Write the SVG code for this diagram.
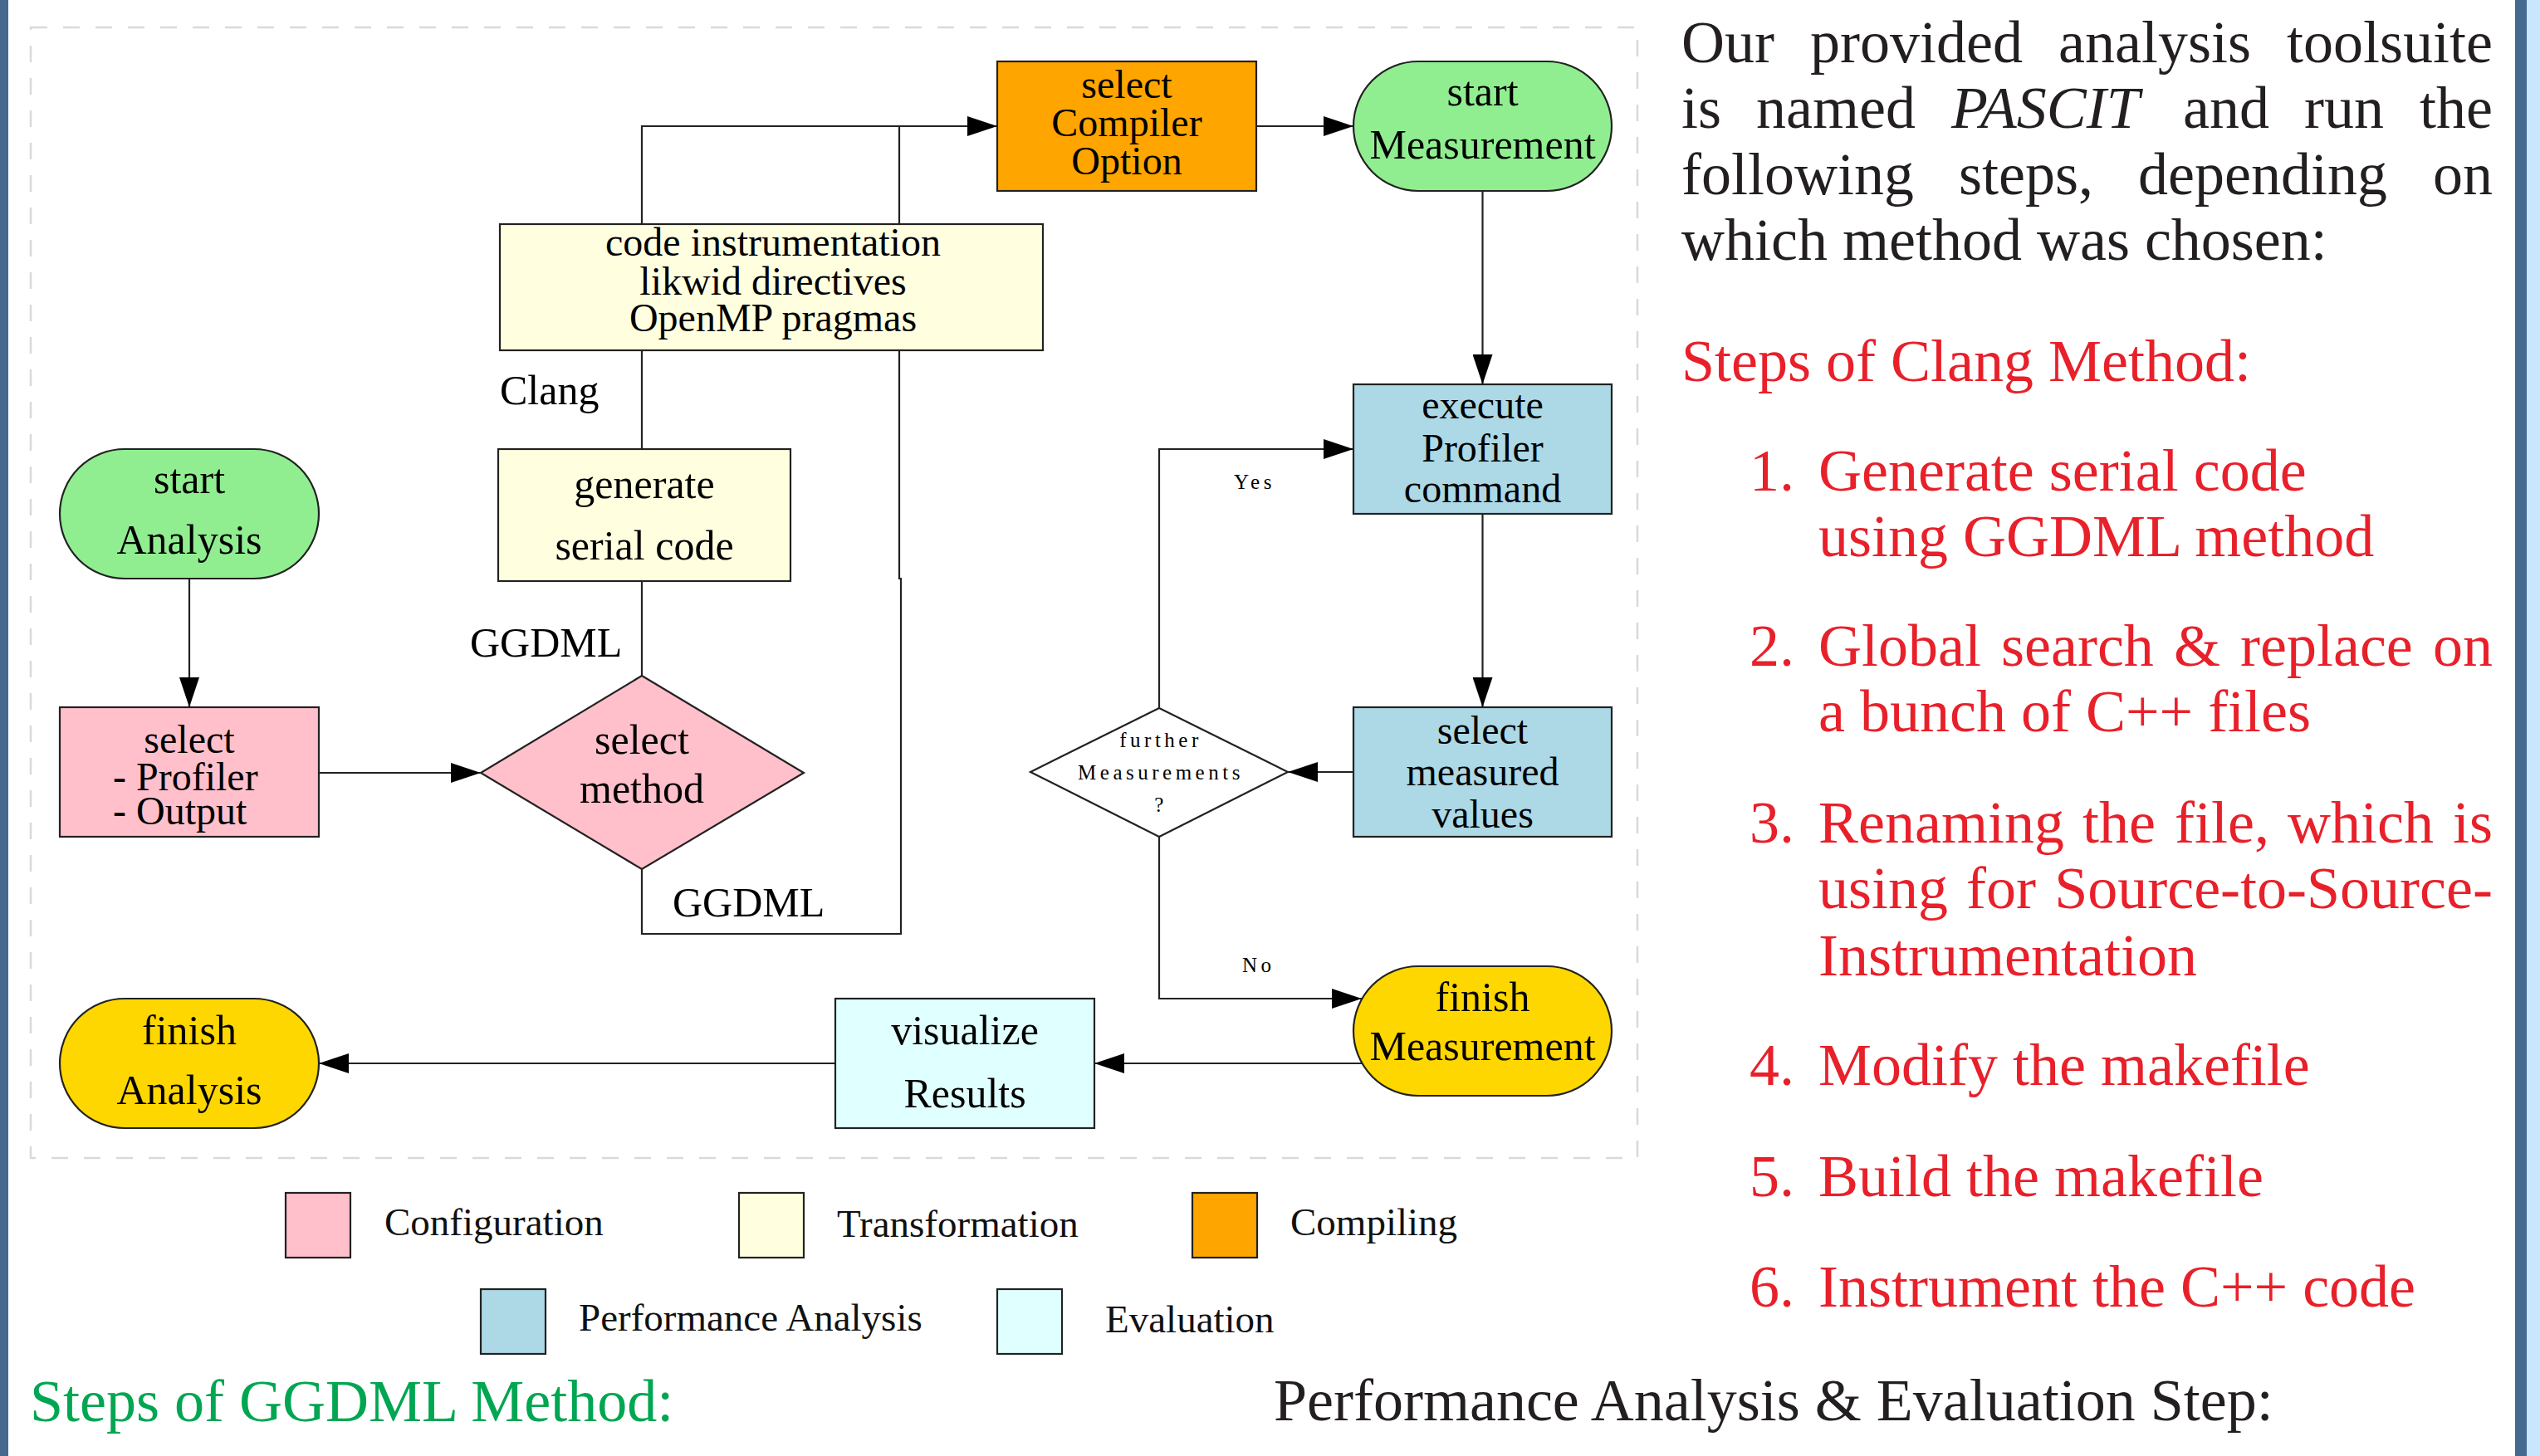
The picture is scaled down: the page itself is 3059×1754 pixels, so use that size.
<svg xmlns="http://www.w3.org/2000/svg" width="3059" height="1754" viewBox="0 0 3059 1754">
<style>
.node{stroke:#222;stroke-width:2.2}
.t{font-family:"Liberation Serif","Times New Roman",serif;font-size:50px;fill:#000;text-anchor:middle}
.t3{font-family:"Liberation Serif","Times New Roman",serif;font-size:48px;fill:#000;text-anchor:middle}
.t3l{font-family:"Liberation Serif","Times New Roman",serif;font-size:48px;fill:#000}
.lbl{font-family:"Liberation Serif","Times New Roman",serif;font-size:50px;fill:#000}
.sm{font-family:"Liberation Serif","Times New Roman",serif;font-size:25px;fill:#000;letter-spacing:4.5px}
.smc{font-family:"Liberation Serif","Times New Roman",serif;font-size:25px;fill:#000;letter-spacing:4.5px;text-anchor:middle}
.leg{font-family:"Liberation Serif","Times New Roman",serif;font-size:47px;fill:#111}
.conn{fill:none;stroke:#222;stroke-width:2.2}
.side{font-family:"Liberation Serif","Times New Roman",serif;font-size:72px;fill:#231f20}
.red{fill:#e8202a}
.big{font-family:"Liberation Serif","Times New Roman",serif;font-size:72px}
</style>
<defs>
<marker id="ah" markerUnits="userSpaceOnUse" markerWidth="36" markerHeight="24" refX="36" refY="12" orient="auto">
<path d="M0,0 L36,12 L0,24 z" fill="#000"/>
</marker>
</defs>
<rect x="0" y="0" width="3059" height="1754" fill="#fff"/>
<rect x="0" y="0" width="10" height="1754" fill="#466a8f"/>
<rect x="3029" y="0" width="14" height="1754" fill="#466a8f"/>
<rect x="3043" y="0" width="16" height="1754" fill="#c8e6fc"/>
<rect x="37" y="33" width="1935" height="1362" fill="none" stroke="#d9d9d9" stroke-width="2.5" stroke-dasharray="20 19"/>

<g id="connectors">
<path class="conn" d="M773,814 V152 H1201" marker-end="url(#ah)"/>
<path class="conn" d="M773,1047 V1125 H1085 V697 H1083 V152"/>
<path class="conn" d="M228,697 V852" marker-end="url(#ah)"/>
<path class="conn" d="M384,931 H579" marker-end="url(#ah)"/>
<path class="conn" d="M1513,152 H1630" marker-end="url(#ah)"/>
<path class="conn" d="M1785.5,230 V463" marker-end="url(#ah)"/>
<path class="conn" d="M1785.5,619 V852" marker-end="url(#ah)"/>
<path class="conn" d="M1630,930 H1551" marker-end="url(#ah)"/>
<path class="conn" d="M1396,853 V541 H1630" marker-end="url(#ah)"/>
<path class="conn" d="M1396,1008 V1203 H1640" marker-end="url(#ah)"/>
<path class="conn" d="M1640,1281 H1318" marker-end="url(#ah)"/>
<path class="conn" d="M1006,1281 H384" marker-end="url(#ah)"/>
<text class="lbl" x="602" y="487">Clang</text>
<text class="lbl" x="566" y="791">GGDML</text>
<text class="lbl" x="810" y="1104">GGDML</text>
<text class="sm" x="1486" y="589">Yes</text>
<text class="sm" x="1496" y="1171">No</text>
</g>

<g id="compiler">
<rect class="node" x="1201" y="74" width="312" height="156" fill="#ffa500"/>
<text class="t3" x="1357" y="118">select</text>
<text class="t3" x="1357" y="164">Compiler</text>
<text class="t3" x="1357" y="210">Option</text>
</g>
<g id="startMeasurement">
<rect class="node" x="1630" y="74" width="311" height="156" rx="78" ry="78" fill="#90ee90"/>
<text class="t" x="1785.5" y="127">start</text>
<text class="t" x="1785.5" y="191">Measurement</text>
</g>
<g id="instrumentation">
<rect class="node" x="602" y="270" width="654" height="152" fill="#ffffe0"/>
<text class="t3" x="931" y="308">code instrumentation</text>
<text class="t3" x="931" y="355">likwid directives</text>
<text class="t3" x="931" y="399">OpenMP pragmas</text>
</g>
<g id="generate">
<rect class="node" x="600" y="541" width="352" height="159" fill="#ffffe0"/>
<text class="t" x="776" y="600">generate</text>
<text class="t" x="776" y="674">serial code</text>
</g>
<g id="startAnalysis">
<rect class="node" x="72" y="541" width="312" height="156" rx="78" ry="78" fill="#90ee90"/>
<text class="t" x="228" y="594">start</text>
<text class="t" x="228" y="667">Analysis</text>
</g>
<g id="selectProfiler">
<rect class="node" x="72" y="852" width="312" height="156" fill="#ffc0cb"/>
<text class="t3" x="228" y="907">select</text>
<text class="t3l" x="136" y="952">- Profiler</text>
<text class="t3l" x="136" y="993">- Output</text>
</g>
<g id="selectMethod">
<polygon class="node" points="773,814 968,931 773,1047 579,931" fill="#ffc0cb"/>
<text class="t" x="773" y="908">select</text>
<text class="t" x="773" y="967">method</text>
</g>
<g id="execute">
<rect class="node" x="1630" y="463" width="311" height="156" fill="#add8e6"/>
<text class="t3" x="1785.5" y="504">execute</text>
<text class="t3" x="1785.5" y="556">Profiler</text>
<text class="t3" x="1785.5" y="605">command</text>
</g>
<g id="selectMeasured">
<rect class="node" x="1630" y="852" width="311" height="156" fill="#add8e6"/>
<text class="t3" x="1785.5" y="896">select</text>
<text class="t3" x="1785.5" y="946">measured</text>
<text class="t3" x="1785.5" y="997">values</text>
</g>
<g id="further">
<polygon class="node" points="1396,853 1551,930 1396,1008 1241,930" fill="#fff"/>
<text class="smc" x="1398" y="900">further</text>
<text class="smc" x="1398" y="939">Measurements</text>
<text class="smc" x="1398" y="978">?</text>
</g>
<g id="finishMeasurement">
<rect class="node" x="1630" y="1164" width="311" height="156" rx="78" ry="78" fill="#ffd700"/>
<text class="t" x="1785.5" y="1218">finish</text>
<text class="t" x="1785.5" y="1277">Measurement</text>
</g>
<g id="visualize">
<rect class="node" x="1006" y="1203" width="312" height="156" fill="#e0ffff"/>
<text class="t" x="1162" y="1258">visualize</text>
<text class="t" x="1162" y="1334">Results</text>
</g>
<g id="finishAnalysis">
<rect class="node" x="72" y="1203" width="312" height="156" rx="78" ry="78" fill="#ffd700"/>
<text class="t" x="228" y="1258">finish</text>
<text class="t" x="228" y="1330">Analysis</text>
</g>

<g id="legend">
<rect class="node" x="344" y="1437" width="78" height="78" fill="#ffc0cb"/>
<text class="leg" x="463" y="1488">Configuration</text>
<rect class="node" x="890" y="1437" width="78" height="78" fill="#ffffe0"/>
<text class="leg" x="1008" y="1490">Transformation</text>
<rect class="node" x="1436" y="1437" width="78" height="78" fill="#ffa500"/>
<text class="leg" x="1554" y="1488">Compiling</text>
<rect class="node" x="579" y="1553" width="78" height="78" fill="#add8e6"/>
<text class="leg" x="697" y="1603">Performance Analysis</text>
<rect class="node" x="1201" y="1553" width="78" height="78" fill="#e0ffff"/>
<text class="leg" x="1331" y="1605">Evaluation</text>
</g>

<g id="sidetext">
<text class="side" y="75"><tspan x="2025">Our</tspan><tspan x="2180">provided</tspan><tspan x="2479">analysis</tspan><tspan x="3002" text-anchor="end">toolsuite</tspan></text>
<text class="side" y="154"><tspan x="2025">is</tspan><tspan x="2115">named</tspan><tspan x="2350" font-style="italic">PASCIT</tspan><tspan x="2629">and</tspan><tspan x="2775">run</tspan><tspan x="3002" text-anchor="end">the</tspan></text>
<text class="side" y="234"><tspan x="2025">following</tspan><tspan x="2359">steps,</tspan><tspan x="2575">depending</tspan><tspan x="3002" text-anchor="end">on</tspan></text>
<text class="side" x="2025" y="313">which method was chosen:</text>
<text class="side red" x="2025" y="459">Steps of Clang Method:</text>
<text class="side red" x="2107" y="591">1.</text>
<text class="side red" x="2190" y="591">Generate serial code</text>
<text class="side red" x="2190" y="670">using GGDML method</text>
<text class="side red" x="2107" y="802">2.</text>
<text class="side red" y="802"><tspan x="2190">Global</tspan><tspan x="2410">search</tspan><tspan x="2618">&amp;</tspan><tspan x="2698">replace</tspan><tspan x="3002" text-anchor="end">on</tspan></text>
<text class="side red" x="2190" y="881">a bunch of C++ files</text>
<text class="side red" x="2107" y="1015">3.</text>
<text class="side red" y="1015"><tspan x="2190">Renaming</tspan><tspan x="2508">the</tspan><tspan x="2619">file,</tspan><tspan x="2755">which</tspan><tspan x="3002" text-anchor="end">is</tspan></text>
<text class="side red" y="1094"><tspan x="2190">using</tspan><tspan x="2368">for</tspan><tspan x="3002" text-anchor="end">Source-to-Source-</tspan></text>
<text class="side red" x="2190" y="1175">Instrumentation</text>
<text class="side red" x="2107" y="1307">4.</text>
<text class="side red" x="2190" y="1307">Modify the makefile</text>
<text class="side red" x="2107" y="1441">5.</text>
<text class="side red" x="2190" y="1441">Build the makefile</text>
<text class="side red" x="2107" y="1574">6.</text>
<text class="side red" x="2190" y="1574">Instrument the C++ code</text>
<text class="big" x="36" y="1712" fill="#00a651">Steps of GGDML Method:</text>
<text class="big" x="1534" y="1711" fill="#231f20">Performance Analysis &amp; Evaluation Step:</text>
</g>
</svg>
